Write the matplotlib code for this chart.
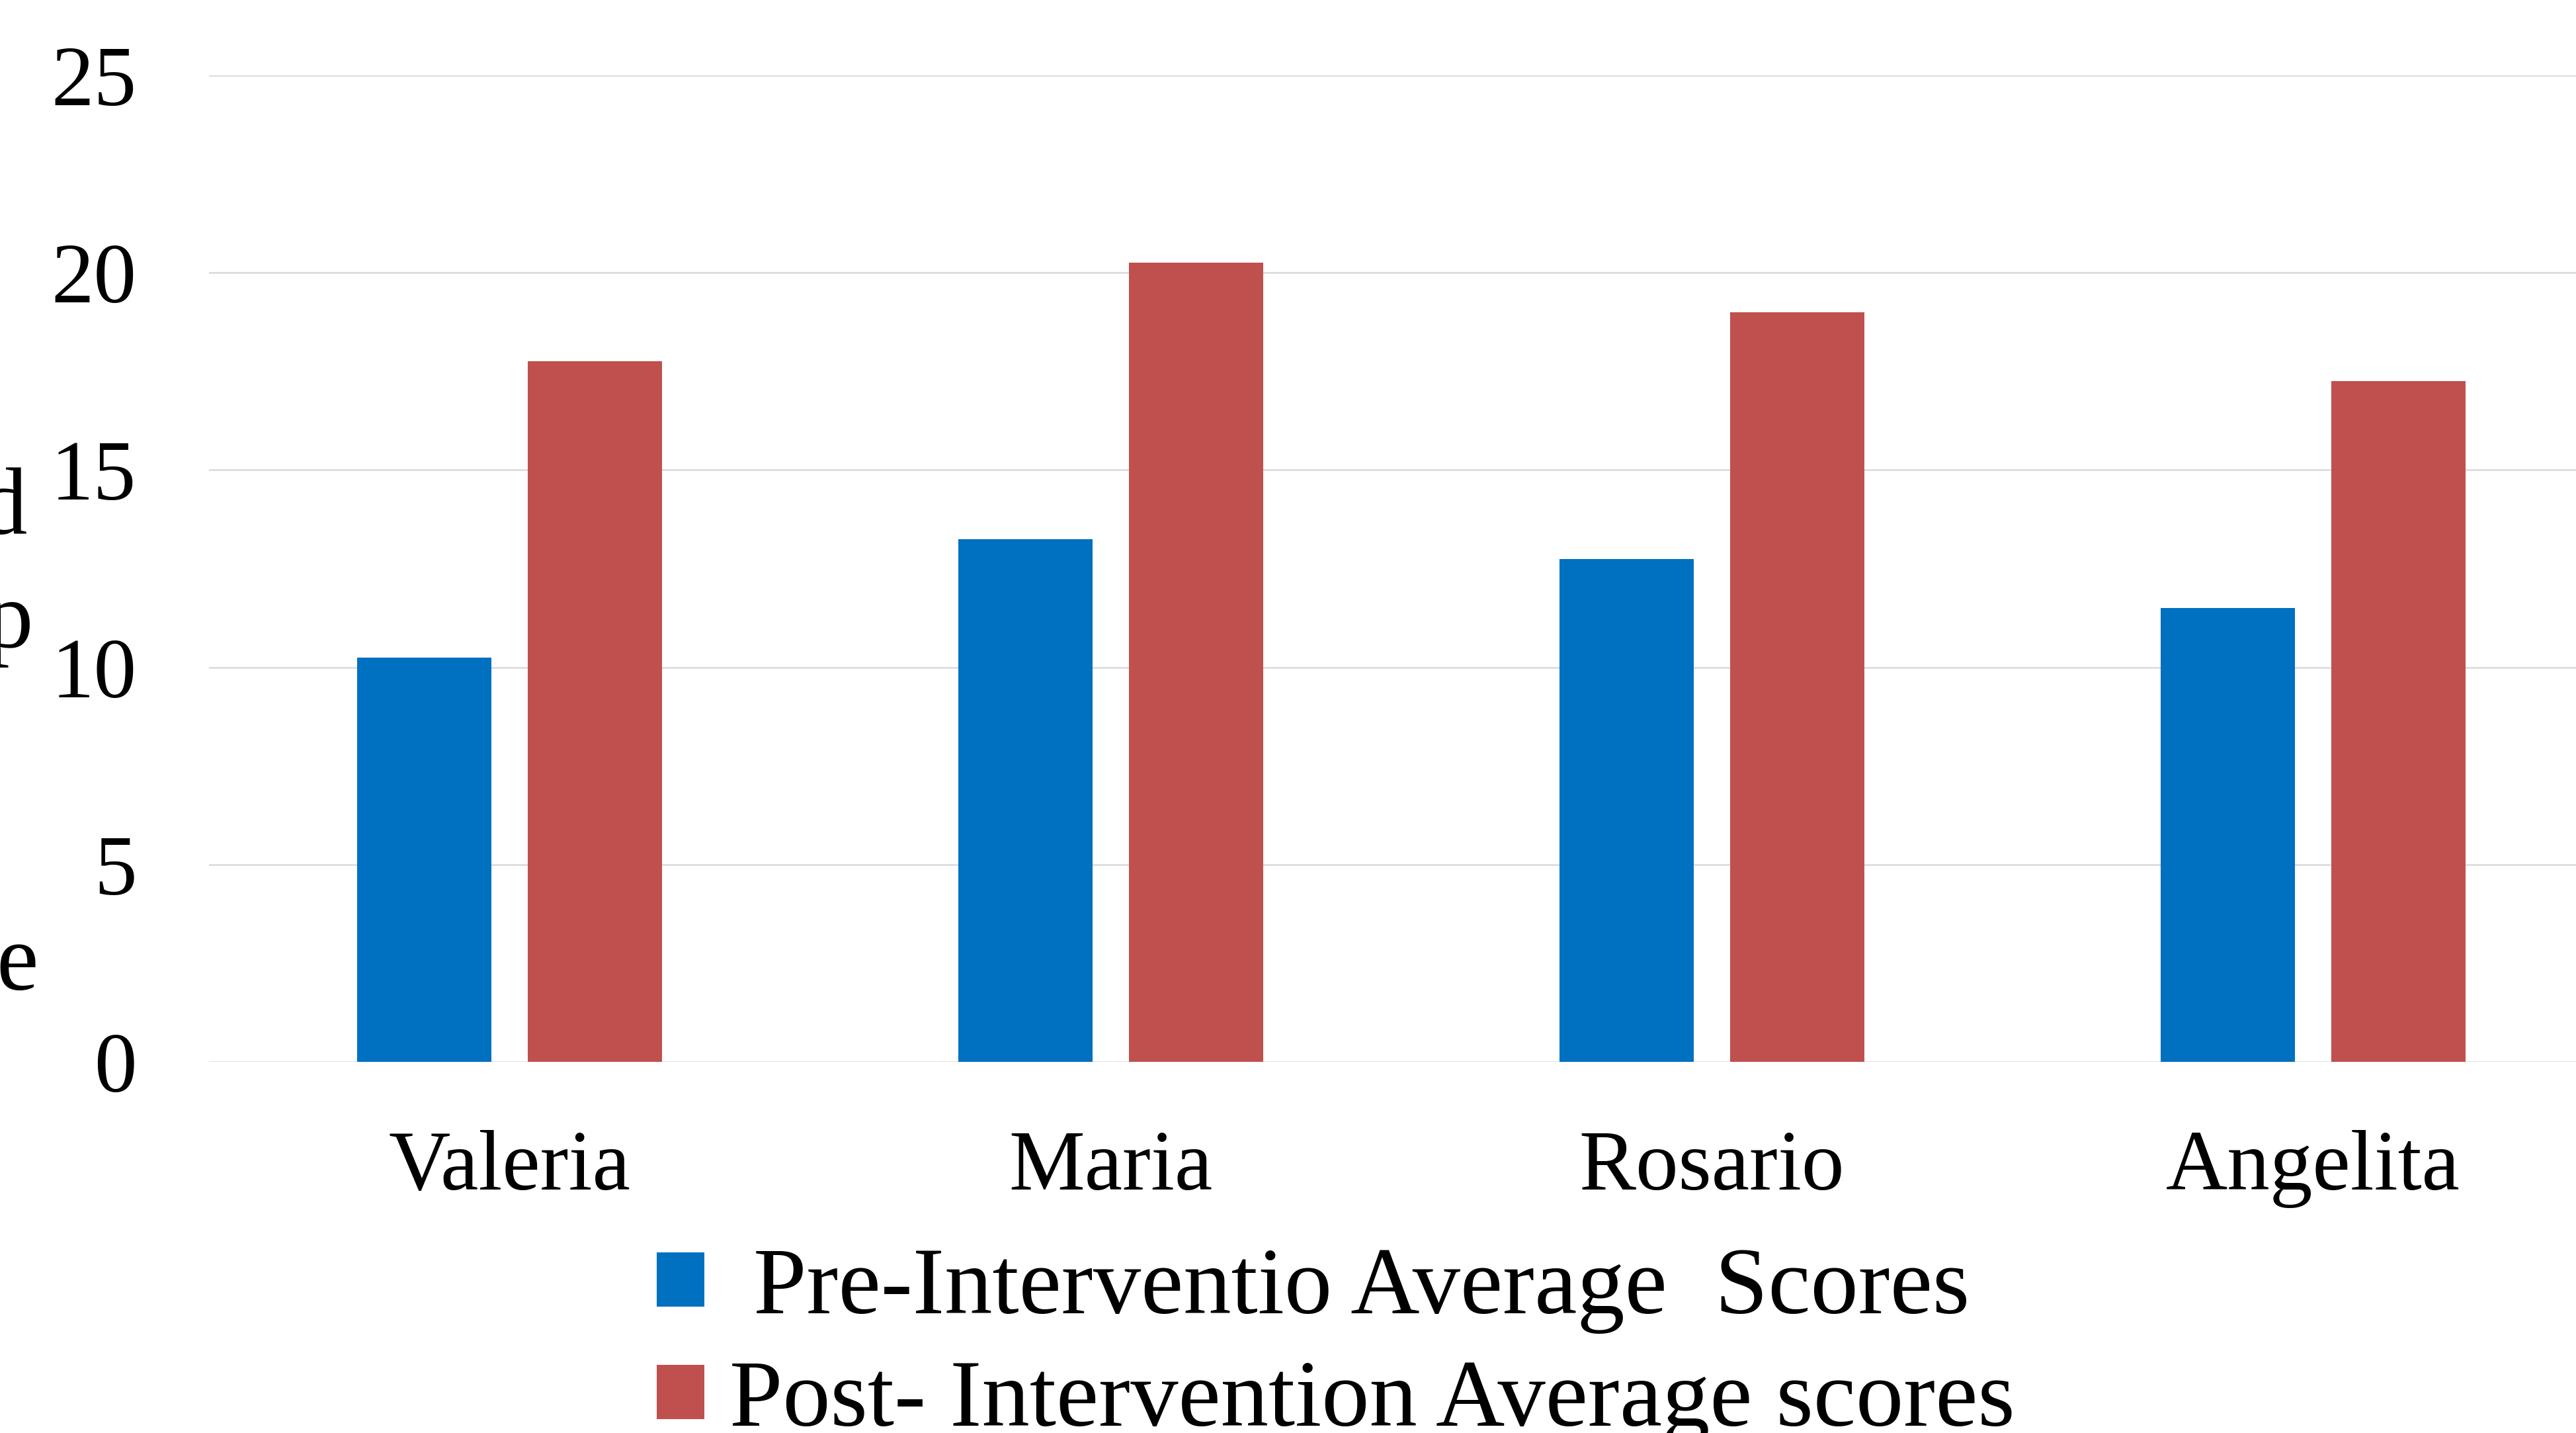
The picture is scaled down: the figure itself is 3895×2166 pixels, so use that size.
import matplotlib
matplotlib.use("Agg")
import matplotlib.pyplot as plt
import numpy as np

plt.rcParams["font.family"] = ["Liberation Serif", "DejaVu Serif"]

students = ["Valeria", "Maria", "Rosario", "Angelita"]
pre_scores = [10.25, 13.25, 12.75, 11.5]
post_scores = [17.75, 20.25, 19.0, 17.25]
pre_label = " Pre-Interventio Average  Scores"
post_label = "Post- Intervention Average scores"
y_ticks = [0, 5, 10, 15, 20, 25]

BLUE = "#0070C0"
RED = "#C0504D"
W, H = 3895, 2166

fig = plt.figure(figsize=(W / 100, H / 100), dpi=100)
ax = fig.add_axes([316 / W, 1 - 1605 / H, (3952 - 316) / W, (1605 - 114) / H])

x = np.arange(len(students))
w = 0.224
ax.bar(x - 0.142, pre_scores, width=w, color=BLUE, label=pre_label, zorder=3)
ax.bar(x + 0.142, post_scores, width=w, color=RED, label=post_label, zorder=3)

ax.set_xlim(-0.5, len(students) - 0.5)
ax.set_ylim(0, 25)
ax.set_yticks(y_ticks)
ax.set_xticks(x)
ax.set_xticklabels(students)
ax.tick_params(axis="y", length=0, labelsize=93, pad=79)
ax.tick_params(axis="x", length=0, labelsize=93, pad=74)
ax.yaxis.grid(True, color="#d9d9d9", linewidth=1.8, zorder=0)
for s in ax.spines.values():
    s.set_visible(False)

# tail ends of the axis title lines, clipped at the left edge
for ch, xr, base in [("d", 41, 807), ("p", 50, 978), ("e", 58, 1496)]:
    fig.text(xr / W, 1 - base / H, ch, ha="right", va="baseline", fontsize=103)

fig.legend(loc="upper left", bbox_to_anchor=(993 / W, 1 - 1885 / H),
           frameon=False, fontsize=104, borderpad=0, borderaxespad=0,
           handlelength=0.5, handleheight=0.5, handletextpad=0.26,
           labelspacing=0.27)

fig.savefig("out.png", dpi=100)
